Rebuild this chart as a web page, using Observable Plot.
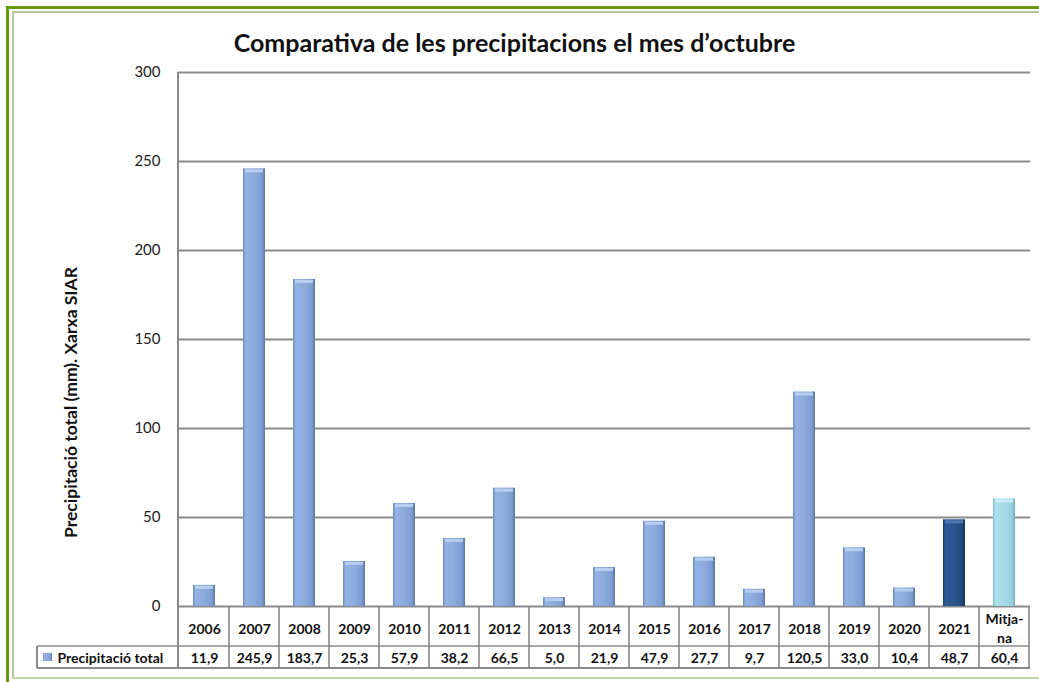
<!DOCTYPE html>
<html><head><meta charset="utf-8">
<script src="https://cdn.jsdelivr.net/npm/d3@7"></script>
<script src="https://cdn.jsdelivr.net/npm/@observablehq/plot@0.6"></script>
<style>
body{margin:0;background:#fff;}
#wrap{position:relative;width:1039px;height:682px;overflow:hidden;font-family:Lato,sans-serif;background:#fff;}
#wrap svg{position:absolute;left:0;top:0;}
.bo{position:absolute;left:6px;top:6px;width:1100px;height:700px;border-left:3px solid #669b10;border-top:3px solid #669b10;}
.bi{position:absolute;left:12px;top:11px;width:1100px;height:664px;border-left:2px solid #b4c99a;border-top:2px solid #b4c99a;border-bottom:2px solid #c4d6a8;}
</style></head><body><div id="wrap"><div class="bo"></div><div class="bi"></div></div>
<script>
const title = "Comparativa de les precipitacions el mes d’octubre";
const yLabel = "Precipitació total (mm). Xarxa SIAR";
const seriesName = "Precipitació total";
const categories = ["2006","2007","2008","2009","2010","2011","2012","2013","2014","2015","2016","2017","2018","2019","2020","2021","Mitjana"];
const categoryLabels = ["2006","2007","2008","2009","2010","2011","2012","2013","2014","2015","2016","2017","2018","2019","2020","2021","Mitja-\nna"];
const values = [11.9,245.9,183.7,25.3,57.9,38.2,66.5,5.0,21.9,47.9,27.7,9.7,120.5,33.0,10.4,48.7,60.4];
const valueLabels = ["11,9","245,9","183,7","25,3","57,9","38,2","66,5","5,0","21,9","47,9","27,7","9,7","120,5","33,0","10,4","48,7","60,4"];
const groups = ["past","past","past","past","past","past","past","past","past","past","past","past","past","past","past","current","mean"];
const yTicks = [0,50,100,150,200,250,300];

const fills = {past:"url(#gPast)", current:"url(#gCurrent)", mean:"url(#gMean)"};
const caps = {past:"#bcd2f2", current:"#4f7bb5", mean:"#d2f0f7"};
const data = categories.map((c,i)=>({cat:c, label:categoryLabels[i], v:values[i], vl:valueLabels[i], fill:fills[groups[i]], cap:caps[groups[i]]}));

const gridColor = "#8a8a8a";
const font = "Lato, sans-serif";

function tableMark(index, scales, channels, dims) {
  const x = scales.x;
  const step = x.step(), bw = x.bandwidth();
  const off = (step - bw) / 2;
  const left = dims.marginLeft, right = dims.width - dims.marginRight;
  const top = dims.height - dims.marginBottom;
  const r1 = top + 40, r2 = top + 62;
  const legendLeft = 37;
  const g = d3.create("svg:g").attr("stroke", gridColor).attr("stroke-width", 1.6).attr("fill", "none");
  g.append("line").attr("x1", left).attr("x2", left).attr("y1", dims.marginTop).attr("y2", r2).attr("stroke-width", 2);
  categories.forEach(c => {
    const xe = x(c) + bw + off;
    g.append("line").attr("x1", xe).attr("x2", xe).attr("y1", top).attr("y2", r2);
  });
  g.append("line").attr("x1", legendLeft).attr("x2", right).attr("y1", r1).attr("y2", r1);
  g.append("line").attr("x1", legendLeft).attr("x2", right).attr("y1", r2).attr("y2", r2).attr("stroke-width", 2);
  g.append("line").attr("x1", legendLeft).attr("x2", legendLeft).attr("y1", r1).attr("y2", r2).attr("stroke-width", 2);
  g.append("rect").attr("x", legendLeft + 6).attr("y", (r1 + r2) / 2 - 4).attr("width", 9).attr("height", 8)
    .attr("stroke", "none").attr("fill", "url(#gPast)");
  return g.node();
}

const chart = Plot.plot({
  width: 1039,
  height: 682,
  marginTop: 72,
  marginBottom: 76,
  marginLeft: 178,
  marginRight: 9,
  style: {fontFamily: font, fontSize: "15px", color: "#222", background: "transparent"},
  x: {domain: categories, paddingInner: 0.56, paddingOuter: 0.28, axis: null},
  y: {domain: [0, 300], ticks: yTicks, tickSize: 0, tickPadding: 18, label: null},
  marks: [
    Plot.ruleY(yTicks, {stroke: gridColor, strokeWidth: 2}),
    Plot.barY(data, {x: "cat", y: "v", fill: "fill"}),
    Plot.tickY(data, {x: "cat", y: "v", stroke: "cap", strokeWidth: 3, dy: 2, insetLeft: 2, insetRight: 2, strokeOpacity: 0.9}),
    tableMark,
    Plot.text(data, {x: "cat", text: "label", frameAnchor: "bottom", lineAnchor: "middle", dy: 21, fontWeight: "bold", fontSize: 14, fill: "#111", lineHeight: 1.35}),
    Plot.text(data, {x: "cat", text: "vl", frameAnchor: "bottom", lineAnchor: "middle", dy: 52, fontWeight: "bold", fontSize: 14, fill: "#111"}),
    Plot.text([seriesName], {frameAnchor: "bottom-left", lineAnchor: "middle", textAnchor: "start", dx: -121, dy: 52, fontWeight: "bold", fontSize: 14, fill: "#111"}),
    Plot.text([title], {frameAnchor: "top", lineAnchor: "middle", dx: -90, dy: -29, fontWeight: "bold", fontSize: 25, fill: "#111"}),
    Plot.text([yLabel], {frameAnchor: "left", lineAnchor: "middle", textAnchor: "middle", dx: -107, dy: 63, rotate: -90, fontWeight: "bold", fontSize: 17.5, fill: "#111"})
  ],
  color: {type: "identity"}
});

const defs = d3.select(chart).insert("defs", ":first-child");
function grad(id, stops) {
  const lg = defs.append("linearGradient").attr("id", id).attr("x1", "0").attr("x2", "1").attr("y1", "0").attr("y2", "0");
  stops.forEach(([o, c]) => lg.append("stop").attr("offset", o).attr("stop-color", c));
}
grad("gPast", [[0, "#6f8cc1"], [0.12, "#94b2e4"], [0.5, "#8eabdd"], [0.85, "#7f9dd1"], [1, "#5b77a9"]]);
grad("gCurrent", [[0, "#1c3f6e"], [0.12, "#2c5c98"], [0.5, "#29558e"], [0.85, "#22497c"], [1, "#163459"]]);
grad("gMean", [[0, "#86c2d2"], [0.12, "#ade1ee"], [0.5, "#a5dbe9"], [0.85, "#98d0df"], [1, "#72aebe"]]);

document.getElementById("wrap").appendChild(chart);
</script>
</body></html>
